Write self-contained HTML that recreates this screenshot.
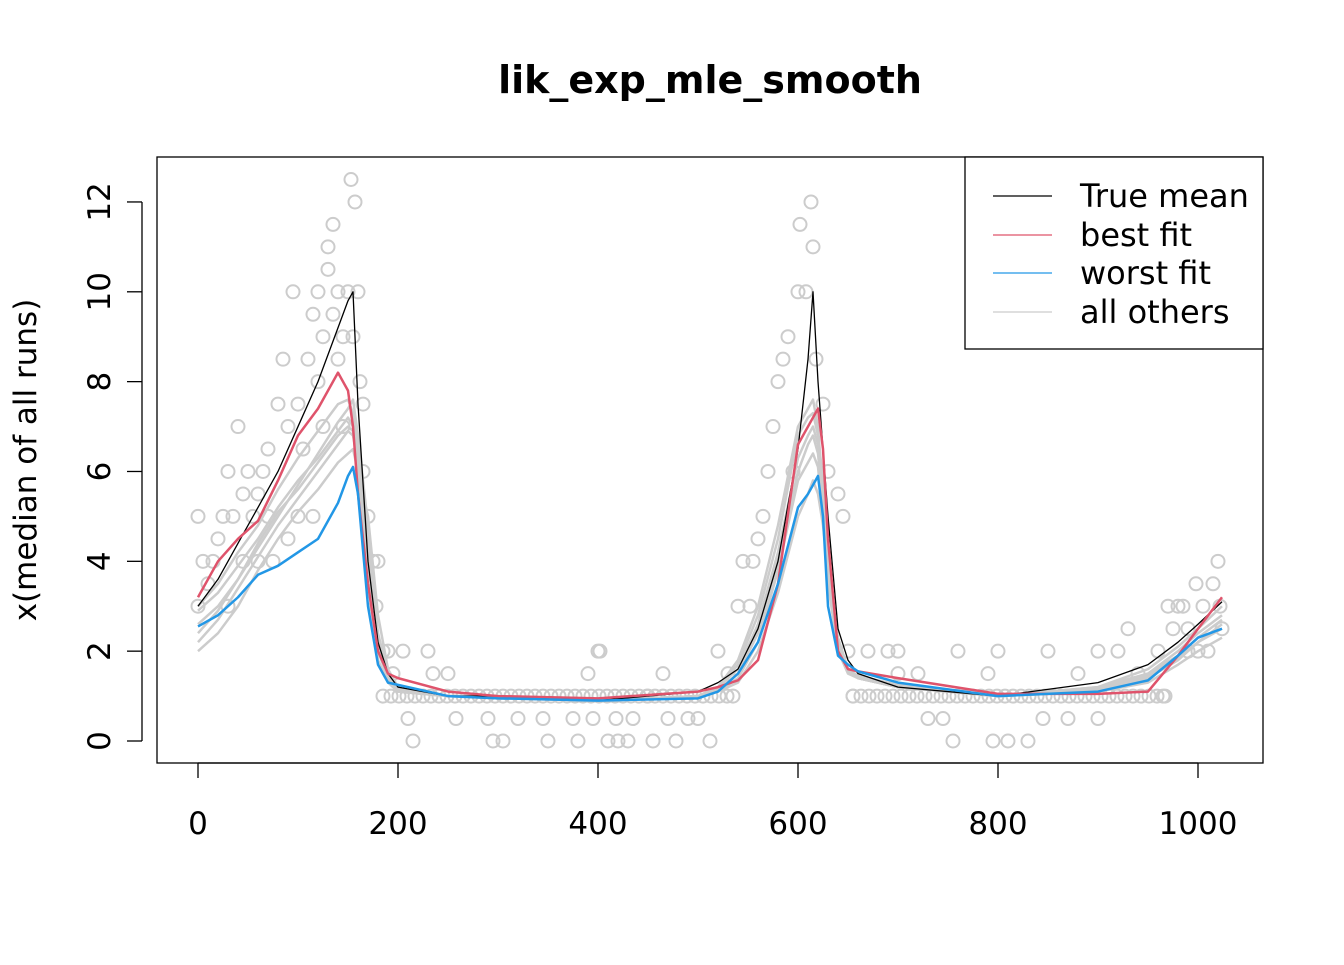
<!DOCTYPE html>
<html><head><meta charset="utf-8"><style>
body{margin:0;background:#fff;}
svg text{font-family:"DejaVu Sans","Liberation Sans",sans-serif;fill:#000;}
</style></head><body>
<svg id="chart" width="1344" height="960" viewBox="0 0 1344 960">
<text x="710" y="93" text-anchor="middle" font-size="38" font-weight="bold">lik_exp_mle_smooth</text>
<g id="pts"></g>
<g id="others"></g>
<g id="main"></g>
<rect x="157" y="157" width="1106" height="606" fill="none" stroke="#000" stroke-width="1.3"/>
<g id="xaxis"></g>
<g id="yaxis"></g>
<text transform="translate(36,460) rotate(-90)" text-anchor="middle" font-size="31">x(median of all runs)</text>
<g>
<rect x="965" y="157" width="298" height="192" fill="#fff" stroke="#000" stroke-width="1.3"/>
<g><line x1="993" y1="196" x2="1052" y2="196" stroke="#000" stroke-width="1.3"/><text x="1080" y="207" font-size="32">True mean</text></g>
<g><line x1="993" y1="235" x2="1052" y2="235" stroke="#DF536B" stroke-width="1.3"/><text x="1080" y="246" font-size="32">best fit</text></g>
<g><line x1="993" y1="273" x2="1052" y2="273" stroke="#2297E6" stroke-width="1.3"/><text x="1080" y="284" font-size="32">worst fit</text></g>
<g><line x1="993" y1="312" x2="1052" y2="312" stroke="#ccc" stroke-width="1.3"/><text x="1080" y="323" font-size="32">all others</text></g>
</g>
</svg>
<script>
const xTicks=[0,200,400,600,800,1000];
const yTicks=[0,2,4,6,8,10,12];
const xs=[0,20,40,60,80,100,120,140,150,155,160,170,180,190,200,250,300,400,500,520,540,560,580,600,610,615,620,625,630,640,650,660,700,800,900,950,980,1000,1024];
const trueMean=[3.0,3.6,4.4,5.2,6.0,7.0,8.0,9.2,9.8,10,7.5,4,2.2,1.5,1.2,1.0,1.0,0.9,1.1,1.3,1.6,2.5,4,6.5,8.5,10,8,6.5,5,2.5,1.8,1.5,1.2,1.0,1.3,1.7,2.2,2.6,3.1];
const bestFit=[3.2,4.0,4.5,4.9,5.8,6.8,7.4,8.2,7.8,7,5.5,3.5,2,1.5,1.4,1.1,1.0,0.95,1.1,1.2,1.35,1.8,3.5,6.6,7.0,7.2,7.4,6.5,4.5,2,1.6,1.55,1.4,1.05,1.05,1.1,1.9,2.5,3.2];
const worstFit=[2.55,2.8,3.2,3.7,3.9,4.2,4.5,5.3,5.9,6.1,5.5,3.0,1.7,1.3,1.25,1.0,0.95,0.9,0.95,1.1,1.5,2.2,3.5,5.2,5.5,5.7,5.9,5.0,3.0,1.9,1.7,1.55,1.3,1.0,1.1,1.35,1.9,2.3,2.5];
const other1=[2.9,3.3,3.9,4.5,5.2,5.8,6.3,6.9,7.2,7.0,6.0,3.5,1.8,1.3,1.1,1.0,1.0,0.9,1.0,1.2,1.6,2.6,4.2,6.3,6.8,7.0,6.6,5.6,4.0,2.2,1.6,1.4,1.2,1.0,1.2,1.5,2.0,2.4,2.8];
const other2=[2.2,2.7,3.4,4.1,4.8,5.4,6.0,6.6,6.9,6.8,6.2,4.5,2.4,1.5,1.2,1.0,1.0,0.9,1.0,1.1,1.4,2.2,3.8,5.8,6.2,6.4,6.1,5.0,3.5,2.0,1.5,1.4,1.2,1.0,1.1,1.4,1.8,2.2,2.6];
const other3=[3.0,3.5,4.2,4.8,5.6,6.3,6.9,7.5,7.6,7.3,6.5,4.2,2.0,1.4,1.1,1.0,1.0,0.9,1.0,1.2,1.8,3.0,4.8,7.0,7.4,7.6,7.0,5.5,3.8,2.0,1.6,1.4,1.2,1.0,1.2,1.6,2.1,2.5,3.0];
const other4=[2.0,2.4,3.0,3.8,4.5,5.1,5.6,6.2,6.4,6.5,6.0,5.0,2.8,1.6,1.2,1.0,0.95,0.9,1.0,1.1,1.3,2.0,3.3,5.0,5.5,5.8,5.5,4.8,3.8,2.3,1.6,1.4,1.2,1.0,1.1,1.3,1.7,2.0,2.3];
const other5=[2.6,3.0,3.6,4.3,5.0,5.7,6.4,7.1,7.4,7.6,6.8,4.8,2.2,1.4,1.1,1.0,1.0,0.9,1.0,1.2,1.7,2.8,4.5,6.8,7.2,7.3,6.8,5.8,4.2,2.1,1.6,1.45,1.25,1.0,1.15,1.5,1.9,2.3,2.7];
const other6=[2.4,2.9,3.6,4.4,5.1,5.6,6.2,6.8,7.0,6.9,6.4,4.0,2.1,1.4,1.15,1.0,1.0,0.9,1.0,1.15,1.5,2.4,4.0,6.0,6.6,6.8,6.4,5.2,3.6,2.0,1.55,1.4,1.2,1.0,1.1,1.45,1.85,2.2,2.5];
const points=[[0,3],[0,5],[5,4],[10,3.5],[15,4],[20,4.5],[25,5],[30,6],[35,5],[40,7],[45,5.5],[50,6],[55,5],[60,5.5],[65,6],[70,6.5],[75,4],[80,7.5],[85,8.5],[90,7],[95,10],[100,7.5],[100,5],[105,6.5],[110,8.5],[115,9.5],[120,10],[120,8],[125,9],[130,10.5],[130,11],[135,11.5],[135,9.5],[140,10],[140,8.5],[145,9],[150,10],[153,12.5],[157,12],[155,9],[160,10],[162,8],[165,6],[170,5],[175,4],[178,3],[185,2],[190,2],[195,1.5],[205,2],[210,0.5],[215,0],[230,2],[235,1.5],[258,0.5],[290,0.5],[295,0],[305,0],[320,0.5],[345,0.5],[350,0],[375,0.5],[380,0],[390,1.5],[395,0.5],[400,2],[402,2],[410,0],[418,0.5],[420,0],[430,0],[435,0.5],[455,0],[465,1.5],[470,0.5],[478,0],[490,0.5],[500,0.5],[512,0],[520,2],[530,1.5],[540,3],[545,4],[552,3],[555,4],[560,4.5],[565,5],[570,6],[575,7],[580,8],[585,8.5],[590,9],[595,6],[600,10],[602,11.5],[608,10],[613,12],[615,11],[618,8.5],[625,7.5],[630,6],[640,5.5],[645,5],[650,2],[655,1],[670,2],[690,2],[700,2],[720,1.5],[730,0.5],[745,0.5],[755,0],[790,1.5],[795,0],[800,2],[810,0],[830,0],[845,0.5],[850,2],[870,0.5],[900,2],[900,0.5],[920,2],[930,2.5],[940,1.5],[960,2],[965,1],[970,3],[975,2.5],[985,3],[990,2.5],[998,3.5],[1005,3],[1010,2],[1015,3.5],[1020,4],[1022,3],[1024,2.5],[30,3],[60,4],[90,4.5],[45,4],[70,5],[115,5],[125,7],[145,7],[165,7.5],[180,4],[1000,2],[990,2],[980,3],[250,1.5],[450,1],[700,1.5],[760,2],[880,1.5]];
const bandX=[185,193,201,209,217,225,233,241,249,257,265,273,281,289,297,305,313,321,329,337,345,353,361,369,377,385,393,401,409,417,425,433,441,449,457,465,473,481,489,497,505,513,521,529,535,655,663,671,679,687,695,703,711,719,727,735,743,751,759,767,775,783,791,799,807,815,823,831,839,847,855,863,871,879,887,895,903,911,919,927,935,943,951,959,967];
const bandY=[1,1,1,1,1,1,1,1,1,1,1,1,1,1,1,1,1,1,1,1,1,1,1,1,1,1,1,1,1,1,1,1,1,1,1,1,1,1,1,1,1,1,1,1,1,1,1,1,1,1,1,1,1,1,1,1,1,1,1,1,1,1,1,1,1,1,1,1,1,1,1,1,1,1,1,1,1,1,1,1,1,1,1,1,1];
const X=v=>198+v*1.0, Y=v=>741-v*44.92;
const NS='http://www.w3.org/2000/svg';
function mk(t,a,p){const e=document.createElementNS(NS,t);for(const k in a)e.setAttribute(k,a[k]);p.appendChild(e);return e;}
const xa=document.getElementById('xaxis');
mk('line',{x1:X(0),x2:X(1000),y1:763,y2:763,stroke:'#000','stroke-width':1.3},xa);
xTicks.forEach(t=>{const l=mk('line',{x1:X(t),x2:X(t),y1:763,y2:778,stroke:'#000','stroke-width':1.3},xa);


const tx=mk('text',{x:X(t),y:834,'text-anchor':'middle','font-size':31},xa);tx.textContent=t;

});
const ya=document.getElementById('yaxis');
mk('line',{x1:142,x2:142,y1:Y(0),y2:Y(12),stroke:'#000','stroke-width':1.3},ya);
yTicks.forEach(t=>{const l=mk('line',{x1:127,x2:142,y1:Y(t),y2:Y(t),stroke:'#000','stroke-width':1.3},ya);


const tx=mk('text',{transform:`translate(110,${Y(t)}) rotate(-90)`,'text-anchor':'middle','font-size':31},ya);tx.textContent=t;

});
const pg=document.getElementById('pts');
points.forEach(p=>{const c=mk('circle',{cx:X(p[0]),cy:Y(p[1]),r:6.5,fill:'none',stroke:'#cccccc','stroke-width':2},pg);

});
bandX.forEach((x,i)=>{const c=mk('circle',{cx:X(x),cy:Y(bandY[i]),r:6.5,fill:'none',stroke:'#cccccc','stroke-width':2},pg);

});
function line(arr,col,w,g,name){const p=mk('polyline',{points:xs.map((x,i)=>X(x)+','+Y(arr[i])).join(' '),fill:'none',stroke:col,'stroke-width':w,'stroke-linejoin':'round'},g);

}
const og=document.getElementById('others');
[other1,other2,other3,other4,other5,other6].forEach(a=>line(a,'#cccccc',2.5,og,'other-run-line'));
const mg=document.getElementById('main');
line(trueMean,'#000',1.3,mg,'true-mean-line');
line(bestFit,'#DF536B',2.5,mg,'best-fit-line');
line(worstFit,'#2297E6',2.5,mg,'worst-fit-line');
</script>
</body></html>
